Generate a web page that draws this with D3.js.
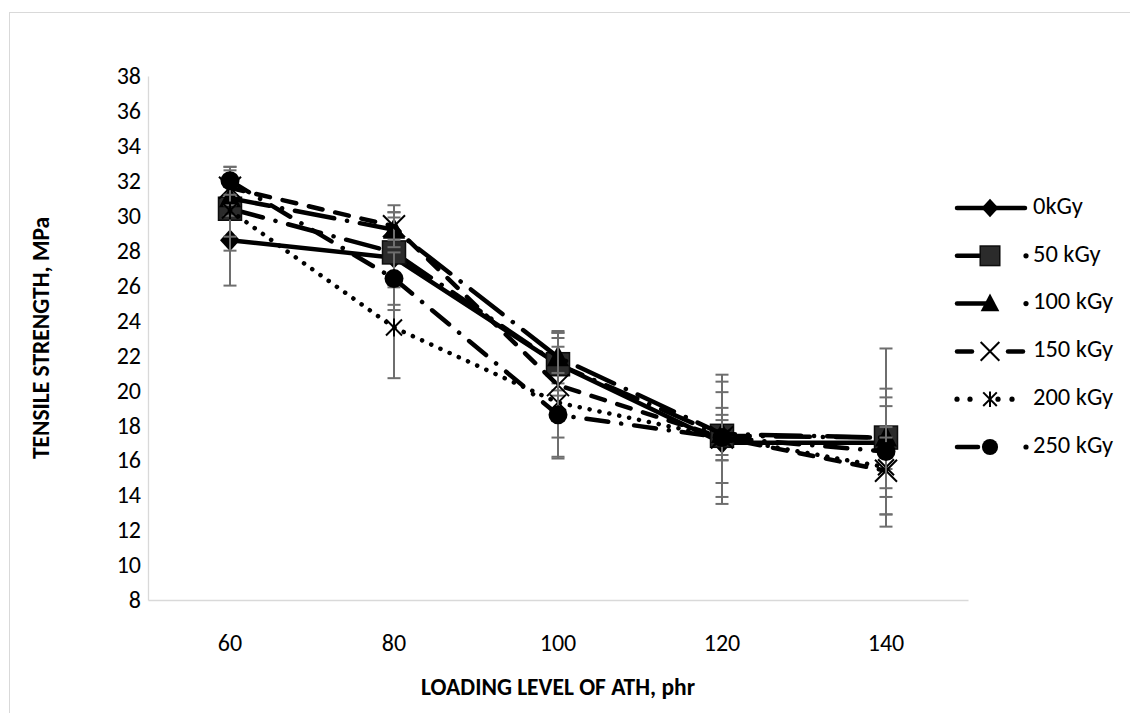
<!DOCTYPE html>
<html>
<head>
<meta charset="utf-8">
<script src="https://cdn.jsdelivr.net/npm/d3@7"></script>
<style>
  html, body { margin: 0; padding: 0; background: #fff; }
  svg { display: block; }
  text { font-family: Carlito, Lato, "Open Sans", sans-serif; fill: #000; }
</style>
</head>
<body>
<svg id="chart" width="1130" height="713"></svg>
<script>
// ---- data ----
const categories = [60, 80, 100, 120, 140];
const seriesNames = ["0kGy", "50 kGy", "100 kGy", "150 kGy", "200 kGy", "250 kGy"];
const v0   = [28.6, 27.6, 21.5, 17.0, 17.0];
const v50  = [30.4, 27.9, 21.5, 17.4, 17.3];
const v100 = [31.0, 29.2, 21.9, 17.5, 17.3];
const v150 = [31.6, 29.4, 20.3, 17.3, 15.4];
const v200 = [30.3, 23.6, 19.3, 17.3, 15.6];
const v250 = [32.0, 26.4, 18.6, 17.3, 16.5];
const e0   = [2.6, 3.0, 1.5, 3.5, 2.6];
const e50  = [2.4, 2.0, 1.8, 3.5, 5.1];
const e100 = [1.0, 1.0, 1.5, 1.5, 1.8];
const e150 = [1.0, 0.8, 3.0, 1.3, 2.5];
const e200 = [1.5, 2.9, 3.2, 2.6, 1.7];
const e250 = [0.8, 1.5, 2.4, 1.0, 3.6];
const yTicks = [8, 10, 12, 14, 16, 18, 20, 22, 24, 26, 28, 30, 32, 34, 36, 38];
const xTitle = "LOADING LEVEL OF ATH, phr";
const yTitle = "TENSILE STRENGTH, MPa";

const seriesValues = [v0, v50, v100, v150, v200, v250];
const seriesErrors = [e0, e50, e100, e150, e200, e250];
const dashes = [null, "34,13,0.1,13", "40,13,0.1,13", "14,13", "0.1,10", "22,13,0.1,13"];
const legendKinds = ["solid", "dashdot", "dashdot", "dash", "dot", "dashdot"];
const markers = ["diamond", "square", "triangle", "cross", "star", "circle"];

const FONT = "Carlito, Lato, 'Open Sans', sans-serif";
const svg = d3.select("#chart");

// chart border
svg.append("rect").attr("x", 9.5).attr("y", 12.5).attr("width", 1140).attr("height", 720)
  .attr("fill", "none").attr("stroke", "#d9d9d9").attr("stroke-width", 1);

const x = d3.scaleBand().domain(categories).range([148, 968]);
const cx = c => x(c) + x.bandwidth() / 2;
const y = d3.scaleLinear().domain([8, 38]).range([600, 76]);

// axes
const yAxis = svg.append("g").attr("transform", "translate(148,0)")
  .call(d3.axisLeft(y).tickValues(yTicks).tickSize(0).tickPadding(7).tickFormat(d3.format("d")));
yAxis.select(".domain").attr("stroke", "#d9d9d9").attr("stroke-width", 1.3);
yAxis.selectAll("text").attr("font-size", 24).style("font-family", FONT);

const xAxis = svg.append("g").attr("transform", "translate(0,600)")
  .call(d3.axisBottom(x).tickSize(0).tickPadding(0));
xAxis.select(".domain").attr("stroke", "#d9d9d9").attr("stroke-width", 1.3);
xAxis.selectAll("text").attr("font-size", 24).attr("y", 43).attr("dy", "0.35em")
  .style("font-family", FONT);

svg.append("text").attr("x", (148 + 968) / 2).attr("y", 689).attr("text-anchor", "middle")
  .attr("dominant-baseline", "middle").attr("font-size", 23.5).attr("font-weight", "bold").text(xTitle);
svg.append("text").attr("transform", "translate(43,338) rotate(-90)").attr("text-anchor", "middle")
  .attr("dominant-baseline", "middle").attr("font-size", 23.5).attr("font-weight", "bold").text(yTitle);

function drawMarker(g, type, px, py, k = 1) {
  if (type === "diamond") {
    g.append("path").attr("d", `M${px},${py-11*k} L${px+10*k},${py} L${px},${py+11*k} L${px-10*k},${py} Z`).attr("fill", "#000");
  } else if (type === "square") {
    const s = 11.5 * k;
    g.append("rect").attr("x", px-s).attr("y", py-s).attr("width", 2*s).attr("height", 2*s)
      .attr("fill", "#2b2b2b").attr("stroke", "#0d0d0d").attr("stroke-width", 1.5);
  } else if (type === "triangle") {
    g.append("path").attr("d", `M${px},${py-12*k} L${px+11*k},${py+9*k} L${px-11*k},${py+9*k} Z`).attr("fill", "#000");
  } else if (type === "cross") {
    const s = 11 * k;
    g.append("path").attr("d", `M${px-s},${py-s} L${px+s},${py+s} M${px+s},${py-s} L${px-s},${py+s}`)
      .attr("stroke", "#000").attr("stroke-width", 2).attr("fill", "none");
  } else if (type === "star") {
    const s = 8 * k;
    g.append("path").attr("d", `M${px-s},${py-s} L${px+s},${py+s} M${px+s},${py-s} L${px-s},${py+s} M${px},${py-s-1} L${px},${py+s+1}`)
      .attr("stroke", "#000").attr("stroke-width", 2).attr("fill", "none");
  } else if (type === "circle") {
    g.append("circle").attr("cx", px).attr("cy", py).attr("r", 9.5 * k).attr("fill", "#000");
  }
}

const line = d3.line().x((d, i) => cx(categories[i])).y(d => y(d));

seriesValues.forEach((vals, si) => {
  const g = svg.append("g");
  vals.forEach((v, i) => {
    const e = seriesErrors[si][i];
    const px = cx(categories[i]);
    g.append("line").attr("x1", px).attr("x2", px).attr("y1", y(v + e)).attr("y2", y(v - e))
      .attr("stroke", "#6e6e6e").attr("stroke-width", 2);
    [v + e, v - e].forEach(t => {
      g.append("line").attr("x1", px - 6.5).attr("x2", px + 6.5).attr("y1", y(t)).attr("y2", y(t))
        .attr("stroke", "#6e6e6e").attr("stroke-width", 2);
    });
  });
  const p = g.append("path").datum(vals).attr("d", line).attr("fill", "none")
    .attr("stroke", "#000").attr("stroke-width", 4.5).attr("stroke-linecap", "round")
    .attr("stroke-linejoin", "round");
  if (dashes[si]) p.attr("stroke-dasharray", dashes[si]);
  vals.forEach((v, i) => drawMarker(g, markers[si], cx(categories[i]), y(v)));
});

// legend
function seg(g, x1, x2, ly) {
  g.append("line").attr("x1", x1).attr("x2", x2).attr("y1", ly).attr("y2", ly)
    .attr("stroke", "#000").attr("stroke-width", 4.5).attr("stroke-linecap", "round");
}
function dot(g, px, ly) {
  g.append("circle").attr("cx", px).attr("cy", ly).attr("r", 2.6).attr("fill", "#000");
}
seriesNames.forEach((name, si) => {
  const ly = 208 + si * 47.8;
  const g = svg.append("g");
  const kind = legendKinds[si];
  if (kind === "solid") seg(g, 957, 1025, ly);
  else if (kind === "dashdot") { seg(g, 957, si === 5 ? 978 : 988, ly); dot(g, 1026, ly); }
  else if (kind === "dash") { seg(g, 957, 972, ly); seg(g, 1008, 1023, ly); }
  else if (kind === "dot") { [957, 970, 998, 1012].forEach(px => dot(g, px, ly)); }
  drawMarker(g, markers[si], 990, ly, 0.85);
  g.append("text").attr("x", 1033).attr("y", ly).attr("dominant-baseline", "middle")
    .attr("font-size", 24.5).text(name);
});
</script>
</body>
</html>
